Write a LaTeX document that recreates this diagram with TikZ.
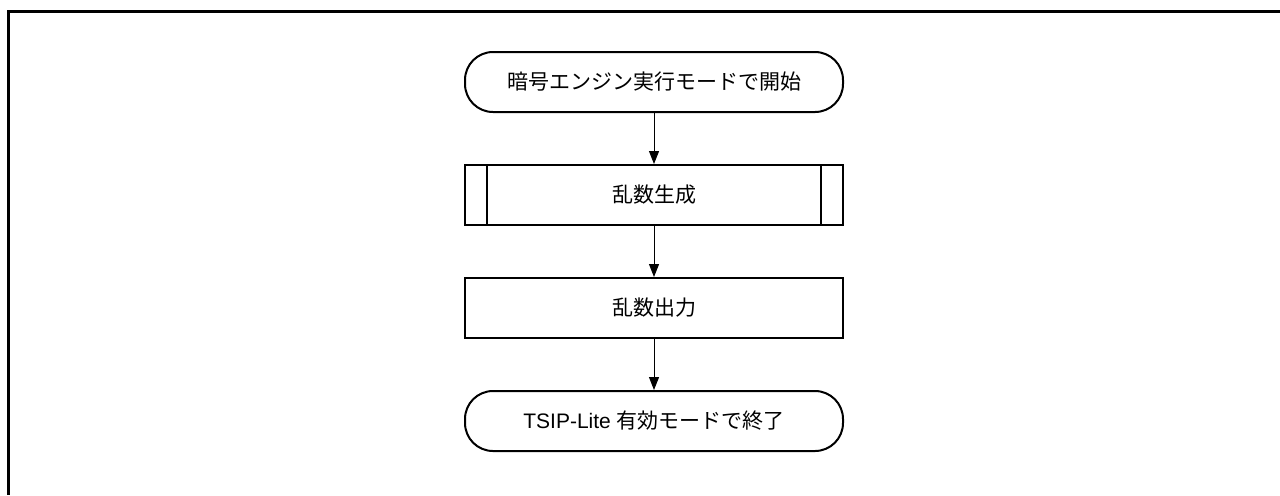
\documentclass[tikz,border=0pt]{standalone}
\usepackage{fontspec}
\setmainfont{Liberation Sans}
\newfontfamily\cjk{Noto Sans CJK JP}
\usepackage{tikz}
\usetikzlibrary{arrows.meta, positioning}
\tikzstyle{terminal} = [rectangle, rounded corners=14pt, minimum width=189pt, minimum height=30pt, text centered, draw=black, line width=1pt]
\tikzstyle{process} = [rectangle, minimum width=189pt, minimum height=30pt, text centered, draw=black, line width=1pt]
\tikzstyle{subprocess} = [process]
\tikzstyle{arrow} = [line width=0.5pt, -{Triangle[width=5pt,length=6.5pt]}]
\tikzstyle{frame} = [line width=1.5pt]

\begin{document}
\begin{tikzpicture}[x=0.5pt, y=-0.5pt, node distance=56.5pt, font=\fontsize{10.5}{12}\selectfont]
    \useasboundingbox (0,0) rectangle (1280,495);
    \draw [frame] (1280,11.5) -| (8.5,495);

    \node (start) [terminal] at (654,82) {\cjk 暗号エンジン実行モードで開始};
    \node (gen) [subprocess, below of=start] {\cjk 乱数生成};
    \node (out) [process, below of=gen] {\cjk 乱数出力};
    \node (end) [terminal, below of=out] {TSIP-Lite {\cjk 有効モードで終了}};

    % side bars of the subprocess box
    \draw [line width=1pt] ([xshift=11.5pt]gen.north west) -- ([xshift=11.5pt]gen.south west);
    \draw [line width=1pt] ([xshift=-11.5pt]gen.north east) -- ([xshift=-11.5pt]gen.south east);

    \draw [arrow] (start) -- (gen);
    \draw [arrow] (gen) -- (out);
    \draw [arrow] (out) -- (end);
\end{tikzpicture}
\end{document}
